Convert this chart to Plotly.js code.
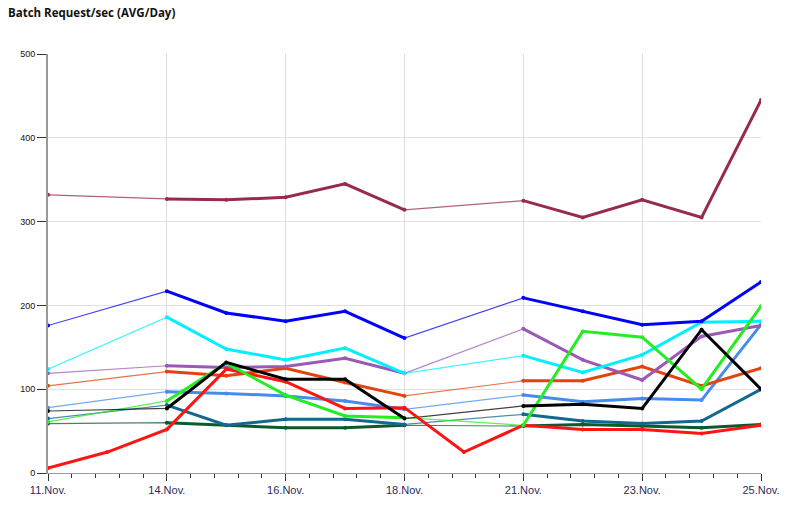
<!DOCTYPE html>
<html>
<head>
<meta charset="utf-8">
<script src="https://cdn.plot.ly/plotly-3.0.1.min.js"></script>
<style>html,body{margin:0;padding:0;background:#fff;}#chart{width:786px;height:512px;}</style>
</head>
<body>
<div id="chart"></div>
<script>
// Categories (days with data points)
var categories = ['11.Nov.','12.Nov.','14.Nov.','15.Nov.','16.Nov.','17.Nov.','18.Nov.','19.Nov.','21.Nov.','22.Nov.','23.Nov.','24.Nov.','25.Nov.'];
var tickLabels = ['11.Nov.','14.Nov.','16.Nov.','18.Nov.','21.Nov.','23.Nov.','25.Nov.'];

// Series values (null = no data that day)
var seriesMaroon    = [332, null, 327, 326, 329, 345, 314, null, 325, 305, 326, 305, 445];
var seriesBlue      = [176, null, 217, 191, 181, 193, 161, null, 209, 193, 177, 181, 228];
var seriesCyan      = [124, null, 186, 148, 135, 149, 119, null, 140, 120, 141, 180, 181];
var seriesPurple    = [119, null, 128, 126, 127, 137, 119, null, 172, 135, 111, 163, 176];
var seriesOrange    = [104, null, 121, 116, 125, 108, 92, null, 110, 110, 127, 104, 125];
var seriesLightBlue = [78, null, 97, 95, 92, 86, 76, null, 93, 85, 89, 87, 177];
var seriesBlack     = [74, null, 77, 132, 112, 112, 65, null, 80, 82, 77, 171, 100];
var seriesGreen     = [61, null, 86, 131, 93, 68, 66, null, 57, 169, 162, 100, 199];
var seriesRed       = [6, 25, 52, 124, 109, 77, 78, 25, 57, 52, 52, 47, 57];
var seriesTeal      = [65, null, 81, 57, 64, 64, 58, null, 70, 62, 59, 62, 100];
var seriesDarkGreen = [59, null, 60, 57, 54, 54, 57, null, 56, 58, 56, 54, 58];

var seriesList = [
  {y: seriesDarkGreen, color: '#0c5a2c'},
  {y: seriesTeal,      color: '#12688f'},
  {y: seriesLightBlue, color: '#468cee'},
  {y: seriesOrange,    color: '#e2440f'},
  {y: seriesPurple,    color: '#9b59b6'},
  {y: seriesCyan,      color: '#00f0ff'},
  {y: seriesBlue,      color: '#0000ff'},
  {y: seriesMaroon,    color: '#962b50'},
  {y: seriesRed,       color: '#ff1414'},
  {y: seriesGreen,     color: '#22ee22'},
  {y: seriesBlack,     color: '#000000'}
];

var xs = categories.map(function(_, i){ return i; });
var traces = [];
// thin connectors across missing days
seriesList.forEach(function(s){
  traces.push({x: xs, y: s.y, type: 'scatter', mode: 'lines', connectgaps: true,
    line: {color: s.color, width: 1.2}, opacity: 0.75, hoverinfo: 'skip', showlegend: false});
});
// thick segments with markers
seriesList.forEach(function(s){
  traces.push({x: xs, y: s.y, type: 'scatter', mode: 'lines+markers', connectgaps: false,
    line: {color: s.color, width: 3}, marker: {color: s.color, size: 4}, showlegend: false});
});

var tickvals = tickLabels.map(function(t){ return categories.indexOf(t); });

var layout = {
  width: 786, height: 512,
  margin: {l: 48, r: 25, t: 54, b: 39},
  paper_bgcolor: '#ffffff', plot_bgcolor: '#ffffff',
  showlegend: false,
  title: {text: 'Batch Request/sec (AVG/Day)', x: 8/786, xref: 'container', xanchor: 'left',
    y: 1 - 13/512, yref: 'container', yanchor: 'middle',
    font: {family: 'Open Sans, sans-serif', size: 11.5, color: '#111', weight: 'bold'}},
  xaxis: {range: [0, 12], tickmode: 'array', tickvals: tickvals, ticktext: tickLabels,
    showgrid: true, gridcolor: '#dcdcdc', gridwidth: 1, zeroline: false,
    showline: true, linecolor: '#9a9a9a', linewidth: 1,
    ticks: 'outside', ticklen: 7, tickcolor: '#333', tickwidth: 1,
    minor: {tick0: 0, dtick: 0.4, ticks: 'outside', ticklen: 4, tickcolor: '#333', showgrid: false},
    tickfont: {family: 'Liberation Sans, Arial, sans-serif', size: 11, color: '#2e2a5a'}},
  yaxis: {range: [0, 500], tickvals: [0, 100, 200, 300, 400, 500],
    showgrid: true, gridcolor: '#e2e2e2', gridwidth: 1, zeroline: false,
    showline: true, linecolor: '#9a9a9a', linewidth: 2,
    ticks: 'outside', ticklen: 9, tickcolor: '#333', tickwidth: 1,
    tickfont: {family: 'Liberation Sans, Arial, sans-serif', size: 9, color: '#111'}},
  hovermode: false
};

Plotly.newPlot('chart', traces, layout, {staticPlot: true, displayModeBar: false});
</script>
</body>
</html>
